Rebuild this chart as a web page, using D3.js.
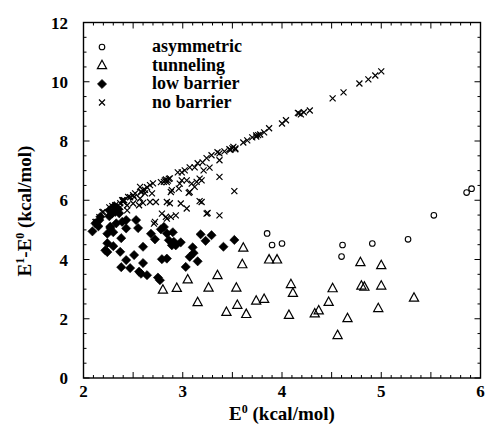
<!DOCTYPE html>
<html><head><meta charset="utf-8">
<script src="https://cdn.jsdelivr.net/npm/d3@7"></script>
<style>body{margin:0;background:#fff}svg{display:block}</style>
</head><body><svg id="c" width="485" height="428"></svg>
<script>
const xTicks = [2,3,4,5,6];
const yTicks = [0,2,4,6,8,10,12];
const seriesNames = ["asymmetric","tunneling","low barrier","no barrier"];
const asymmetric = [[3.85,4.88],[3.90,4.49],[4.00,4.54],[4.61,4.49],[4.60,4.10],[4.91,4.54],[5.27,4.68],[5.53,5.49],[5.86,6.26],[5.91,6.39]];
const tunneling = [[2.80,2.97],[2.94,3.03],[3.05,3.32],[3.15,2.55],[3.26,3.04],[3.35,3.46],[3.44,2.22],[3.54,3.04],[3.55,2.46],[3.61,4.39],[3.60,3.83],[3.64,2.15],[3.74,2.60],[3.82,2.66],[3.87,3.99],[3.95,3.99],[4.07,2.12],[4.09,3.16],[4.11,2.86],[4.33,2.17],[4.37,2.27],[4.47,2.56],[4.51,3.02],[4.56,1.44],[4.66,2.01],[4.79,3.90],[4.80,3.11],[4.83,3.07],[5.00,3.11],[5.00,3.80],[4.97,2.35],[5.33,2.70]];
const lowBarrier = [[2.09,4.95],[2.12,5.22],[2.16,5.33],[2.15,5.12],[2.17,5.44],[2.26,5.46],[2.29,5.56],[2.32,5.61],[2.35,5.70],[2.31,5.80],[2.36,5.56],[2.26,5.66],[2.33,5.22],[2.39,5.27],[2.43,5.33],[2.27,5.06],[2.30,4.92],[2.24,4.87],[2.27,5.11],[2.38,4.72],[2.43,5.05],[2.53,5.33],[2.55,5.06],[2.24,4.55],[2.30,4.45],[2.22,4.31],[2.24,4.25],[2.37,4.26],[2.43,3.98],[2.38,3.74],[2.47,3.71],[2.51,4.15],[2.56,3.59],[2.58,3.52],[2.60,3.88],[2.64,3.47],[2.60,4.43],[2.75,3.39],[2.77,3.30],[2.68,4.87],[2.72,4.68],[2.78,5.02],[2.81,5.10],[2.84,4.88],[2.86,4.65],[2.90,4.92],[2.91,4.60],[2.93,4.48],[2.89,4.48],[2.98,4.58],[2.79,4.01],[2.84,4.03],[3.10,4.41],[3.11,4.22],[3.07,4.09],[3.15,3.94],[3.03,3.75],[3.18,4.85],[3.23,4.63],[3.29,4.82],[3.41,4.43],[3.52,4.66]];
const noBarrier = [[2.12,5.26],[2.16,5.43],[2.19,5.60],[2.26,5.76],[2.32,5.83],[2.37,5.90],[2.41,6.00],[2.47,6.10],[2.50,6.17],[2.58,6.27],[2.60,6.34],[2.64,6.44],[2.67,6.51],[2.70,6.57],[2.78,6.61],[2.82,6.67],[2.84,6.61],[2.87,6.74],[2.95,6.94],[2.99,6.94],[3.02,7.01],[3.07,7.11],[3.12,7.11],[3.15,7.25],[3.20,7.28],[3.24,7.42],[3.29,7.52],[3.35,7.62],[3.37,7.58],[3.42,7.65],[3.47,7.72],[3.50,7.75],[3.53,7.75],[3.61,7.95],[3.65,8.02],[3.70,8.12],[3.74,8.19],[3.78,8.22],[3.82,8.29],[3.87,8.43],[4.00,8.59],[4.04,8.70],[4.17,8.93],[4.22,8.97],[4.28,9.03],[4.51,9.44],[4.62,9.64],[4.78,9.94],[4.87,10.08],[4.94,10.21],[5.00,10.35],
[2.83,6.70],[2.85,6.66],[2.81,6.62],[2.86,6.72],[3.48,7.70],[3.51,7.80],[3.53,7.72],[4.16,8.95],[4.19,8.90],[3.74,8.15],[3.76,8.20],[2.29,5.80],[2.31,5.75],[2.39,6.00],[2.40,5.95],[2.58,6.30],[2.62,6.35],
[2.50,5.89],[2.45,6.11],[2.52,6.23],[2.57,6.45],[2.60,5.91],[2.67,5.94],[2.73,5.94],[2.56,5.83],[2.44,5.83],[2.37,5.77],[2.44,5.66],[2.40,6.00],[2.62,6.23],[2.69,6.23],[2.88,6.28],[2.84,5.94],[2.87,5.90],[2.98,5.89],[3.04,5.72],[2.79,5.55],[2.83,5.44],[2.88,5.44],[2.93,5.49],[2.71,5.21],[2.84,5.38],[2.72,5.27],[3.04,6.67],[3.09,6.56],[2.97,6.56],[2.89,6.34],[3.07,6.28],[3.17,6.73],[3.14,6.62],[3.12,6.45],[2.99,6.67],[2.96,6.39],[3.06,6.25],[3.17,5.97],[3.24,5.55],[3.19,6.67],[3.21,7.01],[3.27,7.10],[3.37,7.35],[3.37,6.79],[3.52,6.31],[3.19,5.94],[3.25,5.57],[3.37,5.49],[2.20,5.61],[2.13,5.27],[2.57,6.06],[2.51,6.11]];

const FONT = "Liberation Serif, Times New Roman, Times, Tinos, Nimbus Roman, Nimbus Roman No9 L, FreeSerif, Noto Serif, DejaVu Serif, serif";
const svg = d3.select("#c");
const x = d3.scaleLinear().domain([2,6]).range([83.5,480.5]);
const y = d3.scaleLinear().domain([0,12]).range([378,22.5]);

svg.append("rect").attr("x",x(2)).attr("y",y(12)).attr("width",x(6)-x(2)).attr("height",y(0)-y(12))
  .attr("fill","none").attr("stroke","#000").attr("stroke-width",1.4);

const g = svg.append("g").attr("stroke","#000").attr("stroke-width",1);
d3.range(2,6.001,0.1).forEach(v=>{
  const major = Math.abs(v*2-Math.round(v*2))<1e-6;
  const L = major?6:3;
  g.append("line").attr("x1",x(v)).attr("x2",x(v)).attr("y1",y(0)).attr("y2",y(0)-L);
  g.append("line").attr("x1",x(v)).attr("x2",x(v)).attr("y1",y(12)).attr("y2",y(12)+L);
});
d3.range(0,12.001,0.5).forEach(v=>{
  const major = Math.abs(v/2-Math.round(v/2))<1e-6;
  const L = major?6:3;
  g.append("line").attr("y1",y(v)).attr("y2",y(v)).attr("x1",x(2)).attr("x2",x(2)+L);
  g.append("line").attr("y1",y(v)).attr("y2",y(v)).attr("x1",x(6)).attr("x2",x(6)-L);
});

function T(sel){ return sel.style("font-family",FONT).style("font-weight","700").attr("fill","#000"); }

T(svg.append("g").selectAll("text").data(xTicks).join("text"))
  .attr("x",d=>x(d)).attr("y",397).attr("text-anchor","middle").attr("font-size",17).text(d=>d);
T(svg.append("g").selectAll("text").data(yTicks).join("text"))
  .attr("x",68).attr("y",d=>y(d)+6).attr("text-anchor","end").attr("font-size",17).text(d=>d);

const xt = T(svg.append("text")).attr("x",282).attr("y",420).attr("text-anchor","middle").attr("font-size",19);
xt.append("tspan").text("E");
xt.append("tspan").attr("dy",-7).attr("font-size",12).text("0");
xt.append("tspan").attr("dy",7).text(" (kcal/mol)");
const yt = T(svg.append("text")).attr("transform","translate(31,211) rotate(-90)").attr("text-anchor","middle").attr("font-size",19);
yt.append("tspan").text("E");
yt.append("tspan").attr("dy",-7).attr("font-size",12).text("1");
yt.append("tspan").attr("dy",7).text("-E");
yt.append("tspan").attr("dy",-7).attr("font-size",12).text("0");
yt.append("tspan").attr("dy",7).text(" (kcal/mol)");

const plot = svg.append("g");
const triPath = "M0,-5.2L4.6,3.2L-4.6,3.2Z";
const diaPath = "M0,-4.6L4.6,0L0,4.6L-4.6,0Z";
const xPath = "M-3,-3L3,3M-3,3L3,-3";
function drawCircles(data){
  plot.append("g").selectAll("circle").data(data).join("circle")
    .attr("cx",d=>x(d[0])).attr("cy",d=>y(d[1])).attr("r",2.8)
    .attr("fill","none").attr("stroke","#000").attr("stroke-width",1.1);
}
function drawPaths(data,p,fill,sw){
  plot.append("g").selectAll("path").data(data).join("path")
    .attr("transform",d=>`translate(${x(d[0])},${y(d[1])})`).attr("d",p)
    .attr("fill",fill).attr("stroke","#000").attr("stroke-width",sw);
}
drawPaths(noBarrier,xPath,"none",1.2);
drawPaths(lowBarrier,diaPath,"#000",0.6);
drawPaths(tunneling,triPath,"none",1.2);
drawCircles(asymmetric);

const legY = [47,65.5,84,102.5];
const symX = 102, txtX = 152;
const lg = svg.append("g");
lg.append("circle").attr("cx",symX).attr("cy",legY[0]).attr("r",2.8).attr("fill","none").attr("stroke","#000").attr("stroke-width",1.1);
lg.append("path").attr("transform",`translate(${symX},${legY[1]})`).attr("d",triPath).attr("fill","none").attr("stroke","#000").attr("stroke-width",1.2);
lg.append("path").attr("transform",`translate(${symX},${legY[2]})`).attr("d",diaPath).attr("fill","#000").attr("stroke","#000").attr("stroke-width",0.6);
lg.append("path").attr("transform",`translate(${symX},${legY[3]})`).attr("d",xPath).attr("fill","none").attr("stroke","#000").attr("stroke-width",1.2);
T(lg.selectAll("text").data(seriesNames).join("text"))
  .attr("x",txtX).attr("y",(d,i)=>legY[i]+5).attr("font-size",18).text(d=>d);
</script></body></html>
